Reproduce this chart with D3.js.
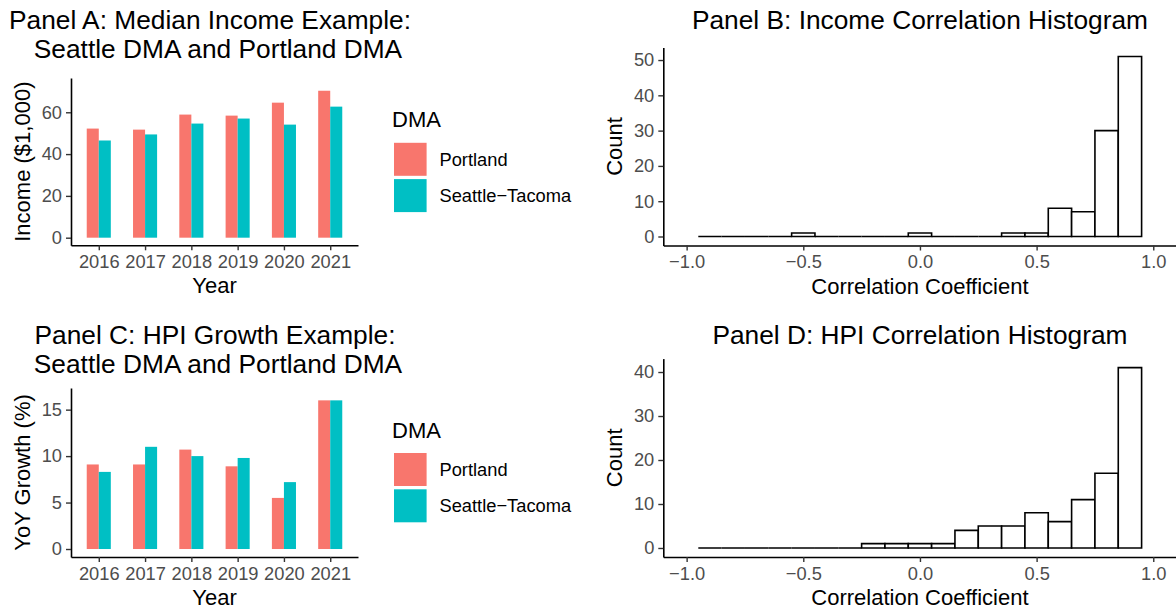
<!DOCTYPE html>
<html>
<head>
<meta charset="utf-8">
<script src="https://cdn.jsdelivr.net/npm/d3@7"></script>
<style>
  body { margin: 0; background: #fff; }
  text { font-family: "Liberation Sans", Arial, sans-serif; }
</style>
</head>
<body>
<script>
// data
const years = ['2016', '2017', '2018', '2019', '2020', '2021'];
const dmas = ['Portland', 'Seattle\u2212Tacoma'];
const incomePortland = [52.2, 51.7, 58.9, 58.4, 64.6, 70.3];
const incomeSeattle = [46.5, 49.4, 54.6, 57.0, 54.1, 62.7];
const hpiPortland = [9.1, 9.1, 10.7, 8.9, 5.5, 16.0];
const hpiSeattle = [8.3, 11.0, 10.0, 9.8, 7.2, 16.0];

const binCenters = [-0.9, -0.8, -0.7, -0.6, -0.5, -0.4, -0.3, -0.2, -0.1, 0.0,
                    0.1, 0.2, 0.3, 0.4, 0.5, 0.6, 0.7, 0.8, 0.9];
const binWidth = 0.1;
const incomeCorrCounts = [0, 0, 0, 0, 1, 0, 0, 0, 0, 1, 0, 0, 0, 1, 1, 8, 7, 30, 51];
const hpiCorrCounts = [0, 0, 0, 0, 0, 0, 0, 1, 1, 1, 1, 4, 5, 5, 8, 6, 11, 17, 41];

const color = d3.scaleOrdinal().domain(dmas).range(['#F8766D', '#00BFC4']);

const W = 1176, H = 609;
const svg = d3.select('body').append('svg')
  .attr('width', W).attr('height', H);

const TITLE = 26.3, AXT = 22, TICK = 18.3;

function styleAxis(g) {
  g.select('.domain').attr('stroke', '#000').attr('stroke-width', 1.6);
  g.selectAll('.tick line').attr('stroke', '#333').attr('stroke-width', 1.4);
  g.selectAll('.tick text').attr('fill', '#4D4D4D')
    .style('font-size', TICK + 'px')
    .style('font-family', '"Liberation Sans", Arial, sans-serif');
}

function titleLines(lines, cx, y0) {
  lines.forEach((t, i) => {
    svg.append('text')
      .attr('x', cx[i]).attr('y', y0 + i * 29)
      .attr('text-anchor', 'middle')
      .style('font-size', TITLE + 'px')
      .text(t);
  });
}

function barPanel(opts) {
  const { x0, x1, y0, y1, domain, ticks, p, s, ylab, title, titleX, titleY, legendY } = opts;
  const x = d3.scalePoint().domain(years).range([x0, x1]).padding(0.6);
  const y = d3.scaleLinear().domain(domain).range([y1, y0]);
  const bw = x.step() * 0.26;

  const rows = [];
  years.forEach((yr, i) => {
    rows.push({ yr, dma: dmas[0], v: p[i], off: -1 });
    rows.push({ yr, dma: dmas[1], v: s[i], off: 0 });
  });

  svg.append('g').selectAll('rect').data(rows).join('rect')
    .attr('x', d => x(d.yr) + d.off * bw)
    .attr('width', bw)
    .attr('y', d => y(Math.max(0, d.v)))
    .attr('height', d => Math.abs(y(0) - y(d.v)))
    .attr('fill', d => color(d.dma));

  svg.append('g').attr('transform', `translate(0,${y1})`)
    .call(d3.axisBottom(x).tickSize(5).tickSizeOuter(0).tickPadding(5))
    .call(styleAxis);
  svg.append('g').attr('transform', `translate(${x0},0)`)
    .call(d3.axisLeft(y).tickValues(ticks).tickSize(5).tickSizeOuter(0).tickPadding(4))
    .call(styleAxis);

  svg.append('text')
    .attr('x', (x0 + x1) / 2).attr('y', y1 + 48)
    .attr('text-anchor', 'middle')
    .style('font-size', AXT + 'px')
    .text('Year');
  svg.append('text')
    .attr('transform', `translate(${x0 - 41},${(y0 + y1) / 2}) rotate(-90)`)
    .attr('text-anchor', 'middle')
    .style('font-size', AXT + 'px')
    .text(ylab);

  titleLines(title, titleX, titleY);

  // legend
  const lg = svg.append('g').attr('transform', `translate(392,${legendY})`);
  lg.append('text').attr('x', 0).attr('y', 0)
    .style('font-size', AXT + 'px').text('DMA');
  const items = lg.selectAll('g.item').data(dmas).join('g')
    .attr('class', 'item')
    .attr('transform', (d, i) => `translate(0,${15 + i * 36.3})`);
  items.append('rect')
    .attr('x', 2).attr('y', 0.5).attr('width', 32.6).attr('height', 33)
    .attr('fill', d => color(d));
  items.append('text')
    .attr('x', 47.5).attr('y', 23.5)
    .style('font-size', TICK + 'px')
    .text(d => d);
}

function histPanel(opts) {
  const { x0, x1, y0, y1, counts, ymax, ticks, title, titleY } = opts;
  const x = d3.scaleLinear().domain([-1.1, 1.1]).range([x0, x1]);
  const y = d3.scaleLinear().domain([-ymax * 0.05, ymax * 1.05]).range([y1, y0]);

  const bins = binCenters.map((c, i) => ({ c, n: counts[i] }));
  // paths so that empty bins still show their flat outline
  svg.append('g').selectAll('path').data(bins).join('path')
    .attr('d', d => {
      const a = x(d.c - binWidth / 2), b = x(d.c + binWidth / 2);
      const t = y(d.n), z = y(0);
      return `M${a},${z}V${t}H${b}V${z}Z`;
    })
    .attr('fill', '#fff')
    .attr('stroke', '#000')
    .attr('stroke-width', 1.6);

  svg.append('g').attr('transform', `translate(0,${y1})`)
    .call(d3.axisBottom(x).tickValues([-1, -0.5, 0, 0.5, 1]).tickFormat(d3.format('.1f'))
      .tickSize(5).tickSizeOuter(0).tickPadding(5))
    .call(styleAxis);
  svg.append('g').attr('transform', `translate(${x0},0)`)
    .call(d3.axisLeft(y).tickValues(ticks).tickSize(5).tickSizeOuter(0).tickPadding(4))
    .call(styleAxis);

  svg.append('text')
    .attr('x', (x0 + x1) / 2).attr('y', y1 + 48)
    .attr('text-anchor', 'middle')
    .style('font-size', AXT + 'px')
    .text('Correlation Coefficient');
  svg.append('text')
    .attr('transform', `translate(${x0 - 41},${(y0 + y1) / 2}) rotate(-90)`)
    .attr('text-anchor', 'middle')
    .style('font-size', AXT + 'px')
    .text('Count');

  svg.append('text')
    .attr('x', (x0 + x1) / 2).attr('y', titleY)
    .attr('text-anchor', 'middle')
    .style('font-size', TITLE + 'px')
    .text(title);
}

barPanel({
  x0: 71, x1: 358, y0: 78, y1: 245.3,
  domain: [-3.64, 76.4], ticks: [0, 20, 40, 60],
  p: incomePortland, s: incomeSeattle,
  ylab: 'Income ($1,000)',
  title: ['Panel A: Median Income Example:', 'Seattle DMA and Portland DMA'],
  titleX: [210, 218], titleY: 29, legendY: 127.3
});

histPanel({
  x0: 663.3, x1: 1176.6, y0: 47.5, y1: 245.5,
  counts: incomeCorrCounts, ymax: 51, ticks: [0, 10, 20, 30, 40, 50],
  title: 'Panel B: Income Correlation Histogram', titleY: 29
});

barPanel({
  x0: 71, x1: 358, y0: 388, y1: 557,
  domain: [-0.86, 17.33], ticks: [0, 5, 10, 15],
  p: hpiPortland, s: hpiSeattle,
  ylab: 'YoY Growth (%)',
  title: ['Panel C: HPI Growth Example:', 'Seattle DMA and Portland DMA'],
  titleX: [215, 218], titleY: 344, legendY: 437.5
});

histPanel({
  x0: 663.3, x1: 1176.6, y0: 358.6, y1: 557,
  counts: hpiCorrCounts, ymax: 41, ticks: [0, 10, 20, 30, 40],
  title: 'Panel D: HPI Correlation Histogram', titleY: 344
});
</script>
</body>
</html>
